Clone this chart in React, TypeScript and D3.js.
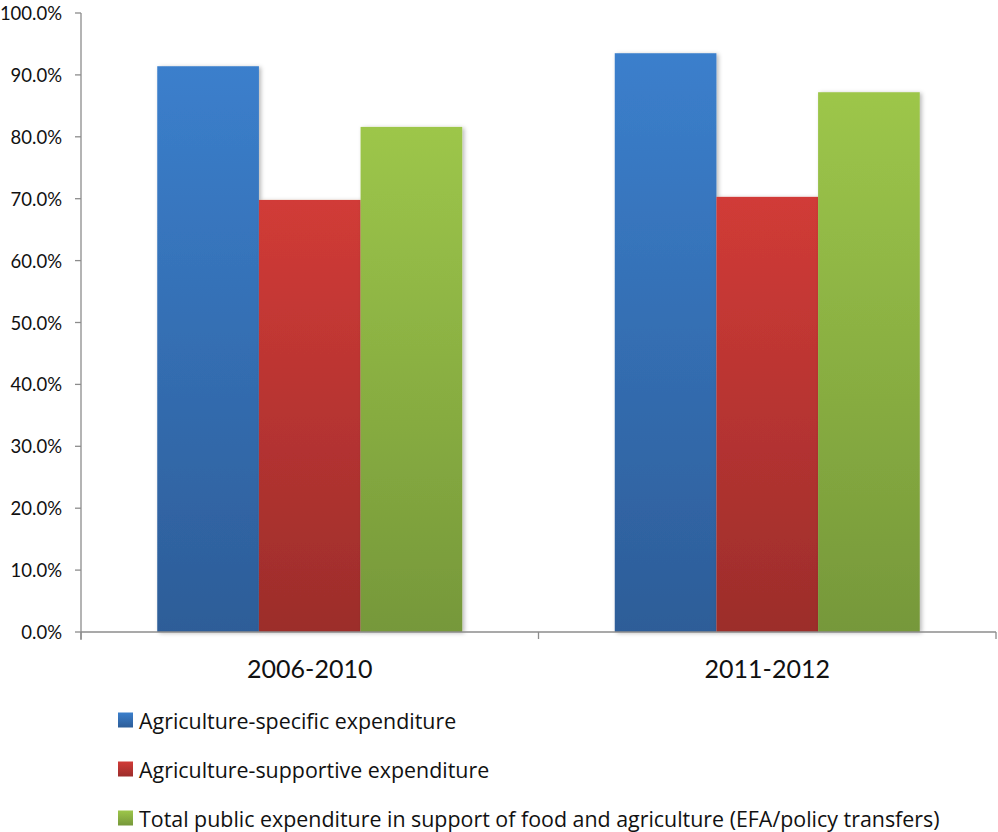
import React from "react";
import * as d3 from "d3";

const categories = ["2006-2010", "2011-2012"];
const seriesNames = [
  "Agriculture-specific expenditure",
  "Agriculture-supportive expenditure",
  "Total public expenditure in support of food and agriculture (EFA/policy transfers)",
];
const specificValues = [91.4, 93.5];
const supportiveValues = [69.8, 70.3];
const totalValues = [81.6, 87.2];
const yTicks = [0, 10, 20, 30, 40, 50, 60, 70, 80, 90, 100];

const seriesValues = [specificValues, supportiveValues, totalValues];
const colorsTop = ["#3b7fcc", "#d13b37", "#9dc64a"];
const colorsBottom = ["#2d5d98", "#9c2d2b", "#76983a"];

const W = 998;
const H = 832;
const left = 81;
const right = 996;
const top = 13;
const bottom = 632;
const FONT = "Lato, 'Open Sans', sans-serif";

export default function App() {
  const y = d3.scaleLinear().domain([0, 100]).range([bottom, top]);
  const x0 = d3.scaleBand<string>().domain(categories).range([left, right]).paddingInner(0).paddingOuter(0);
  const groupW = x0.bandwidth() * (3 / 4.5);
  const x1 = d3
    .scaleBand<number>()
    .domain([0, 1, 2])
    .range([0, groupW]);
  const bw = x1.bandwidth();

  return (
    <svg width={W} height={H} style={{ position: "absolute", left: 0, top: 0, background: "#fff" }} fontFamily={FONT}>
      <defs>
        {seriesNames.map((_, i) => (
          <linearGradient key={i} id={`g${i}`} x1="0" y1="0" x2="0" y2="1">
            <stop offset="0" stopColor={colorsTop[i]} />
            <stop offset="1" stopColor={colorsBottom[i]} />
          </linearGradient>
        ))}
        {seriesNames.map((_, i) => (
          <linearGradient key={"l" + i} id={`lg${i}`} x1="0" y1="0" x2="0" y2="1">
            <stop offset="0" stopColor={colorsTop[i]} />
            <stop offset="1" stopColor={colorsBottom[i]} />
          </linearGradient>
        ))}
        <filter id="shadow" x="-10%" y="-5%" width="125%" height="115%">
          <feDropShadow dx="2" dy="1" stdDeviation="2" floodColor="#000" floodOpacity="0.28" />
        </filter>
        <filter id="lshadow" x="-5%" y="-50%" width="110%" height="300%">
          <feDropShadow dx="0" dy="1.5" stdDeviation="1" floodColor="#000" floodOpacity="0.25" />
        </filter>
      </defs>

      {/* gridlines */}
      <g>
        {yTicks.map((t) => (
          <g key={t}>
            {t > 0 && (
              <line x1={left} x2={right} y1={y(t)} y2={y(t)} stroke="#8c8c8c" strokeWidth={1.3} filter="url(#lshadow)" />
            )}
            <line x1={left - 6} x2={left} y1={y(t)} y2={y(t)} stroke="#8c8c8c" strokeWidth={1.3} />
            <text x={62} y={y(t)} textAnchor="end" dominantBaseline="central" fontSize={18.5} fill="#111">
              {t.toFixed(1) + "%"}
            </text>
          </g>
        ))}
      </g>

      {/* bars */}
      {categories.map((c, ci) => {
        const gx = (x0(c) as number) + (x0.bandwidth() - groupW) / 2;
        return (
          <g key={c}>
            {seriesValues.map((vals, si) => (
              <rect
                key={si}
                x={gx + (x1(si) as number)}
                y={y(vals[ci])}
                width={bw}
                height={bottom - y(vals[ci])}
                fill={`url(#g${si})`}
                filter="url(#shadow)"
              />
            ))}
          </g>
        );
      })}

      {/* axes */}
      <line x1={left} x2={left} y1={top} y2={bottom + 8} stroke="#8c8c8c" strokeWidth={1.3} />
      <line x1={left} x2={right} y1={bottom} y2={bottom} stroke="#8c8c8c" strokeWidth={1.3} />
      {[left, x0(categories[1]) as number, right].map((tx, i) => (
        <line key={i} x1={tx} x2={tx} y1={bottom} y2={bottom + 7} stroke="#8c8c8c" strokeWidth={1.3} />
      ))}
      {categories.map((c) => (
        <text
          key={c}
          x={(x0(c) as number) + x0.bandwidth() / 2}
          y={678}
          textAnchor="middle"
          fontSize={25}
          fill="#111"
        >
          {c}
        </text>
      ))}

      {/* legend */}
      {seriesNames.map((n, i) => {
        const ly = 720 + i * 49;
        return (
          <g key={n}>
            <rect x={118} y={ly - 7.5} width={15} height={15} fill={`url(#lg${i})`} />
            <text
              x={139}
              y={ly}
              dominantBaseline="central"
              fontSize={21.4}
              fontFamily="'Open Sans', sans-serif"
              fill="#111"
            >
              {n}
            </text>
          </g>
        );
      })}
    </svg>
  );
}
